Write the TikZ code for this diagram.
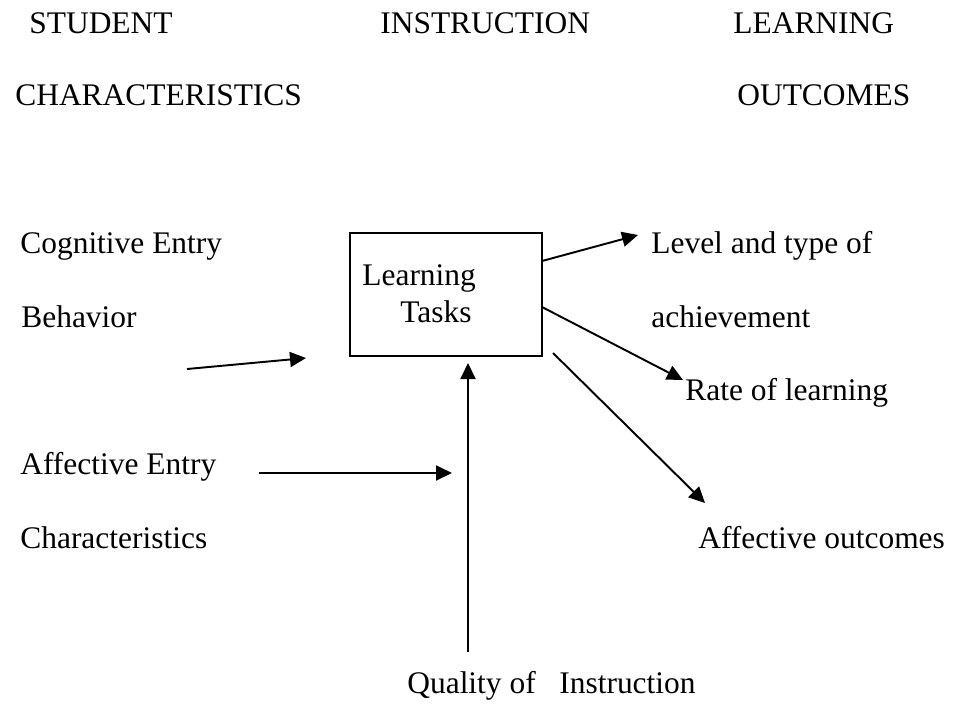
\documentclass[tikz,border=0pt]{standalone}
\usepackage{fontspec}
\setmainfont{Liberation Serif}
\usetikzlibrary{arrows.meta}

\tikzset{
  lbl/.style={anchor=base west,inner sep=0pt,font=\fontsize{17.9}{20}\selectfont},
  taskbox/.style={draw,line width=1.1pt,minimum width=3.84cm,minimum height=2.46cm,inner sep=0pt},
  flow/.style={line width=1.1pt,-{Triangle[length=0.32cm,width=0.3cm]}},
}

\begin{document}
\begin{tikzpicture}[x=0.02cm,y=-0.02cm]
      \useasboundingbox (0,0) rectangle (955,704);
      \begin{scope}
        % column headings
        \node[lbl] (student) at (29,33) {STUDENT};
        \node[lbl] (instr) at (380,33) {INSTRUCTION};
        \node[lbl] (learning) at (733,33) {LEARNING};
        \node[lbl] (charac) at (15,105) {CHARACTERISTICS};
        \node[lbl] (outcomes) at (737,105) {OUTCOMES};
      \end{scope}
      \begin{scope}
        % inputs on the left
        \node[lbl] (cog) at (20,253) {Cognitive Entry};
        \node[lbl] (behav) at (21,327) {Behavior};
        \node[lbl] (aff) at (20,474) {Affective Entry};
        \node[lbl] (affchar) at (20,548) {Characteristics};
        \node[lbl] (quality) at (407,693) {Quality of\ \ \ Instruction};
      \end{scope}
      \begin{scope}
        % the box in the middle
        \node[taskbox] (tasks) at (446,294.5) {};
        \node[lbl] (tlearn) at (362,285) {Learning};
        \node[lbl] (ttasks) at (400,322) {Tasks};
      \end{scope}
      \begin{scope}
        % outcomes on the right
        \node[lbl] (level) at (651,253) {Level and type of};
        \node[lbl] (achieve) at (651,327) {achievement};
        \node[lbl] (rate) at (685,400) {Rate of learning};
        \node[lbl] (affout) at (698,548) {Affective outcomes};
      \end{scope}
      \begin{scope}
        \coordinate (c1) at (187,369);  \coordinate (c2) at (306,358);
        \coordinate (a1) at (259,473);  \coordinate (a2) at (452,473);
        \coordinate (q1) at (468,652);  \coordinate (q2) at (468,363);
        \coordinate (l1) at (542,261);  \coordinate (l2) at (638,235);
        \coordinate (r1) at (542,307);  \coordinate (r2) at (683,380);
        \coordinate (o1) at (553,353);  \coordinate (o2) at (705,503);
      \end{scope}
      \begin{scope}
        \draw[flow] (c1) -- (c2); % cognitive entry
        \draw[flow] (a1) -- (a2); % affective entry
        \draw[flow] (q1) -- (q2); % quality of instruction
        \draw[flow] (l1) -- (l2); % level of achievement
        \draw[flow] (r1) -- (r2); % rate of learning
        \draw[flow] (o1) -- (o2); % affective outcomes
      \end{scope}
    \end{tikzpicture}
\end{document}
